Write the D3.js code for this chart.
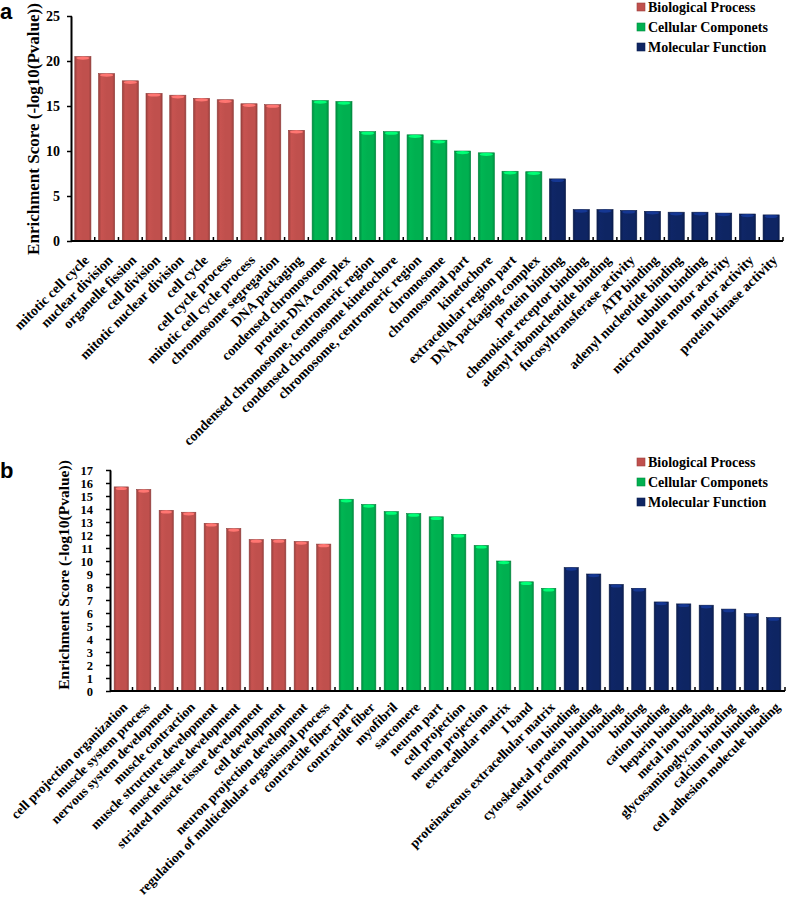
<!DOCTYPE html>
<html>
  <head>
    <meta charset="utf-8"/>
    <style>
    body {
      font-family: "Liberation Serif", "Times New Roman", serif;
      margin: 0;
      background: #fff;
    }
    text { font-weight: bold; }
    </style>
  </head>
  <body>
    <script src="https://d3js.org/d3.v7.min.js"></script>
    <script>
    var width = 787, height = 898;

    var groupNames = ["Biological Process", "Cellular Componets", "Molecular Function"];
    var groupColors = ["#C0504D", "#00B050", "#0E2563"];

    // panel a
    var aCategories = [
      "mitotic cell cycle", "nuclear division", "organelle fission", "cell division",
      "mitotic nuclear division", "cell cycle", "cell cycle process", "mitotic cell cycle process",
      "chromosome segregation", "DNA packaging",
      "condensed chromosome", "protein-DNA complex", "condensed chromosome, centromeric region",
      "condensed chromosome kinetochore", "chromosome, centromeric region", "chromosome",
      "chromosomal part", "kinetochore", "extracellular region part", "DNA packaging complex",
      "protein binding", "chemokine receptor binding", "adenyl ribonucleotide binding",
      "fucosyltransferase activity", "ATP binding", "adenyl nucleotide binding", "tubulin binding",
      "microtubule motor activity", "motor activity", "protein kinase activity"
    ];
    var aValues = [
      20.5, 18.6, 17.8, 16.4, 16.2, 15.85, 15.7, 15.25, 15.15, 12.3,
      15.6, 15.5, 12.15, 12.15, 11.8, 11.2, 10.0, 9.8, 7.75, 7.7,
      6.9, 3.5, 3.5, 3.4, 3.3, 3.2, 3.2, 3.1, 3.0, 2.9
    ];
    var aGroups = [0,0,0,0,0,0,0,0,0,0, 1,1,1,1,1,1,1,1,1,1, 2,2,2,2,2,2,2,2,2,2];
    var aTicks = [0, 5, 10, 15, 20, 25];

    // panel b
    var bCategories = [
      "cell projection organization", "muscle system process", "nervous system development",
      "muscle contraction", "muscle structure development", "muscle tissue development",
      "striated muscle tissue development", "cell development", "neuron projection development",
      "regulation of multicellular organismal process",
      "contractile fiber part", "contractile fiber", "myofibril", "sarcomere", "neuron part",
      "cell projection", "neuron projection", "extracellular matrix", "I band",
      "proteinaceous extracellular matrix",
      "ion binding", "cytoskeletal protein binding", "sulfur compound binding", "binding",
      "cation binding", "heparin binding", "metal ion binding", "glycosaminoglycan binding",
      "calcium ion binding", "cell adhesion molecule binding"
    ];
    var bValues = [
      15.7, 15.5, 13.9, 13.75, 12.9, 12.5, 11.65, 11.65, 11.5, 11.3,
      14.75, 14.35, 13.8, 13.65, 13.4, 12.05, 11.2, 10.0, 8.4, 7.9,
      9.5, 9.0, 8.2, 7.9, 6.85, 6.7, 6.6, 6.3, 5.95, 5.65
    ];
    var bGroups = [0,0,0,0,0,0,0,0,0,0, 1,1,1,1,1,1,1,1,1,1, 2,2,2,2,2,2,2,2,2,2];
    var bTicks = d3.range(0, 18);

    var svg = d3.select("body").append("svg")
        .attr("width", width)
        .attr("height", height);

    var defs = svg.append("defs");
    groupColors.forEach(function(c, i){
      var g = defs.append("linearGradient").attr("id", "grad" + i)
          .attr("x1", "0%").attr("x2", "100%").attr("y1", "0%").attr("y2", "0%");
      var base = d3.color(c);
      g.append("stop").attr("offset", "0%").attr("stop-color", base.darker(0.6));
      g.append("stop").attr("offset", "18%").attr("stop-color", base.brighter(0.1));
      g.append("stop").attr("offset", "50%").attr("stop-color", base);
      g.append("stop").attr("offset", "85%").attr("stop-color", base);
      g.append("stop").attr("offset", "100%").attr("stop-color", base.darker(0.6));
    });

    drawPanel({
      letter: "a", letterY: 19,
      x0: 71, x1: 783, yTop: 16, yBottom: 241, yMax: 25,
      cats: aCategories, values: aValues, groups: aGroups, ticks: aTicks,
      padding: 0.32, titleX: 33, titleY: 129, titleSize: 17,
      tickSize: 14, tickX: -11, labelSize: 14, labelDy: 20, legendY: 7
    });

    drawPanel({
      letter: "b", letterY: 478,
      x0: 110, x1: 785, yTop: 470, yBottom: 691, yMax: 17,
      cats: bCategories, values: bValues, groups: bGroups, ticks: bTicks,
      padding: 0.37, titleX: 64, titleY: 575, titleSize: 15.5,
      tickSize: 12.5, tickX: -17, labelSize: 13.5, labelDy: 17, legendY: 462
    });

    function drawPanel(p){

      var g = svg.append("g");

      var x = d3.scaleBand()
          .domain(p.cats)
          .range([p.x0, p.x1])
          .paddingInner(p.padding)
          .paddingOuter(p.padding / 2);

      var y = d3.scaleLinear()
          .domain([0, p.yMax])
          .range([p.yBottom, p.yTop]);

      // bars
      var bars = g.selectAll(".bar")
          .data(p.cats)
        .enter().append("g")
          .attr("class", "bar");

      bars.append("rect")
          .attr("x", function(d){ return x(d); })
          .attr("y", function(d, i){ return y(p.values[i]); })
          .attr("width", x.bandwidth())
          .attr("height", function(d, i){ return y(0) - y(p.values[i]); })
          .attr("fill", function(d, i){ return "url(#grad" + p.groups[i] + ")"; })
          .attr("stroke", function(d, i){ return d3.color(groupColors[p.groups[i]]).darker(0.8); })
          .attr("stroke-width", 0.6);

      bars.append("ellipse")
          .attr("cx", function(d){ return x(d) + x.bandwidth() / 2; })
          .attr("cy", function(d, i){ return y(p.values[i]) + 1.6; })
          .attr("rx", x.bandwidth() / 2 - 1.5)
          .attr("ry", 1.6)
          .attr("fill", function(d, i){ return d3.color(groupColors[p.groups[i]]).brighter(1.1); });

      // y axis
      var yAxis = g.append("g")
          .attr("transform", "translate(" + p.x0 + ",0)")
          .call(d3.axisLeft(y).tickValues(p.ticks).tickSize(4).tickSizeOuter(0));
      yAxis.select(".domain").attr("stroke-width", 2);
      yAxis.selectAll(".tick line").attr("stroke-width", 1.5).attr("x2", -4).attr("x1", 1);
      yAxis.selectAll(".tick text")
          .attr("x", p.tickX)
          .style("font-family", "'Liberation Serif', serif")
          .style("font-size", p.tickSize + "px")
          .style("font-weight", "bold")
          .attr("fill", "#000");

      // x axis line and category ticks
      g.append("line")
          .attr("x1", p.x0).attr("x2", p.x1)
          .attr("y1", y(0)).attr("y2", y(0))
          .attr("stroke", "#000").attr("stroke-width", 2);

      var step = x.step();
      g.selectAll(".xtick")
          .data(p.cats)
        .enter().append("line")
          .attr("x1", function(d){ return x(d) + x.bandwidth() + (step - x.bandwidth()) / 2; })
          .attr("x2", function(d){ return x(d) + x.bandwidth() + (step - x.bandwidth()) / 2; })
          .attr("y1", y(0)).attr("y2", y(0) - 4)
          .attr("stroke", "#000").attr("stroke-width", 1.5);

      // category labels
      g.selectAll(".xlabel")
          .data(p.cats)
        .enter().append("text")
          .attr("text-anchor", "end")
          .attr("transform", function(d){
            return "translate(" + (x(d) + x.bandwidth() / 2 + 7) + "," + (y(0) + p.labelDy) + ") rotate(-45)";
          })
          .style("font-size", p.labelSize + "px")
          .text(function(d){ return d; });

      // axis title
      g.append("text")
          .attr("text-anchor", "middle")
          .attr("transform", "translate(" + p.titleX + "," + p.titleY + ") rotate(-90)")
          .attr("dy", "0.35em")
          .style("font-size", p.titleSize + "px")
          .text("Enrichment Score (-log10(Pvalue))");

      // panel letter
      svg.append("text")
          .attr("x", 0).attr("y", p.letterY)
          .style("font-family", "'Liberation Sans', Arial, sans-serif")
          .style("font-size", "22px")
          .text(p.letter);

      // legend
      var legend = g.selectAll(".legend")
          .data(groupNames)
        .enter().append("g")
          .attr("transform", function(d, i){ return "translate(637," + (p.legendY + i * 20) + ")"; });

      legend.append("rect")
          .attr("x", 0).attr("y", -4)
          .attr("width", 8).attr("height", 8)
          .attr("fill", function(d, i){ return groupColors[i]; })
          .attr("stroke", function(d, i){ return d3.color(groupColors[i]).darker(0.6); })
          .attr("stroke-width", 0.6);

      legend.append("text")
          .attr("x", 11)
          .attr("dy", "0.35em")
          .style("font-size", "14px")
          .text(function(d){ return d; });
    }

    </script>

  </body>
</html>
